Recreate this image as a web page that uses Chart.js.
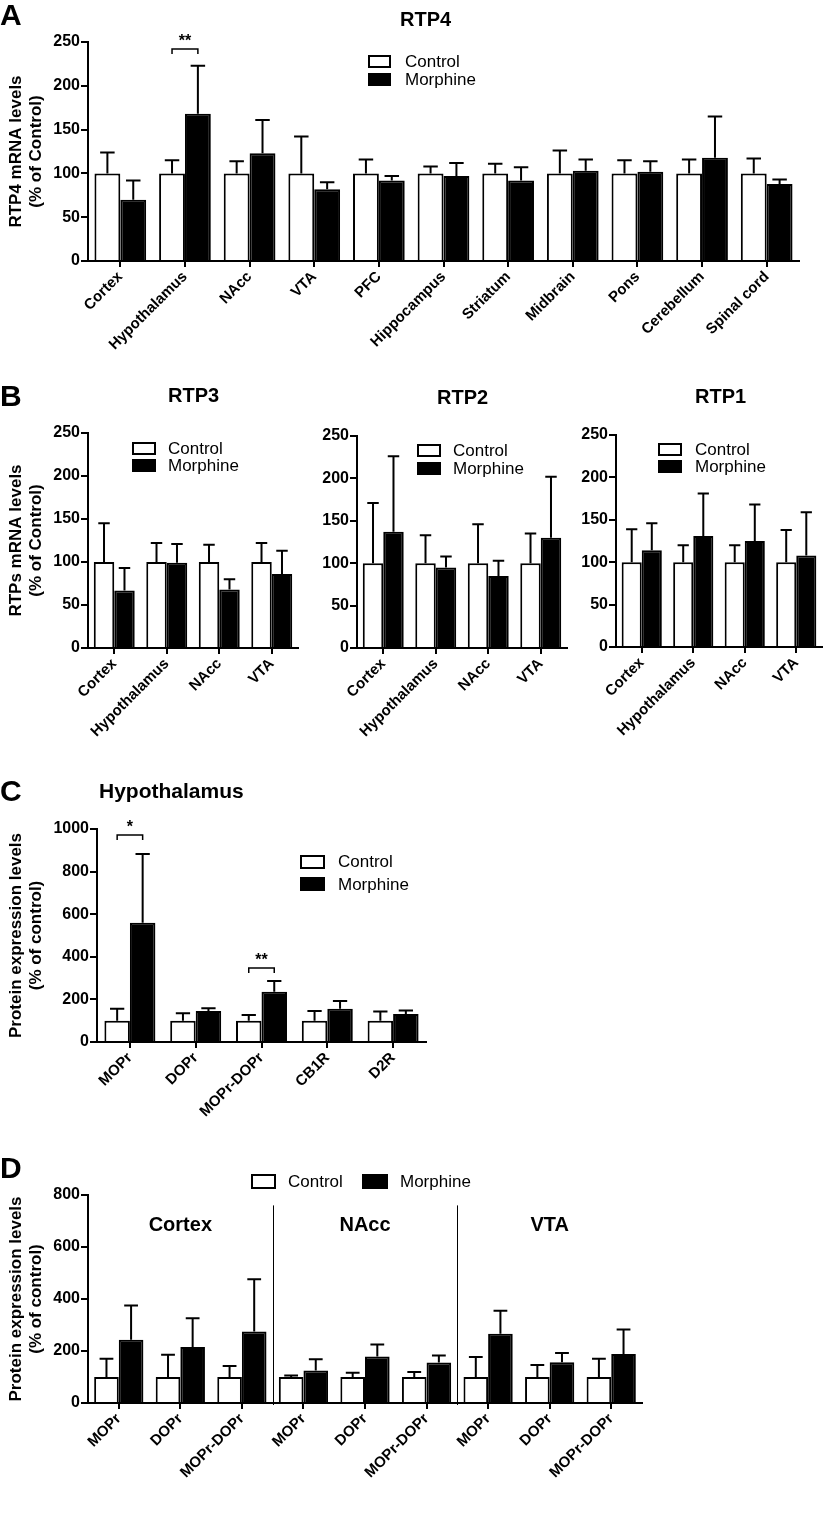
<!DOCTYPE html>
<html>
<head>
<meta charset="utf-8">
<script src="https://cdn.jsdelivr.net/npm/chart.js@4.4.1/dist/chart.umd.min.js"></script>
<style>
  body { margin: 0; background: #fff; }
  #page { position: relative; width: 825px; height: 1515px; overflow: hidden; background: #fff;
          font-family: "Liberation Sans", Arial, sans-serif; color: #000; }
  #page canvas { position: absolute; }
  .txt { position: absolute; white-space: nowrap; line-height: 1; }
  .box { position: absolute; border: 2px solid #000; box-sizing: border-box; }
</style>
</head>
<body>
<div id="page">
  <canvas id="chartA" width="825" height="375" style="left:0;top:0"></canvas>
  <canvas id="chartRtp3" width="305" height="345" style="left:0;top:400px"></canvas>
  <canvas id="chartRtp2" width="272" height="345" style="left:300px;top:400px"></canvas>
  <canvas id="chartRtp1" width="265" height="345" style="left:560px;top:400px"></canvas>
  <canvas id="chartC" width="440" height="350" style="left:0;top:790px"></canvas>
  <canvas id="chartD" width="660" height="345" style="left:0;top:1170px"></canvas>
</div>
<script>
const FONT = '"Liberation Sans", Arial, sans-serif';

// A - RTP4 mRNA
const rtp4Regions = ['Cortex', 'Hypothalamus', 'NAcc', 'VTA', 'PFC', 'Hippocampus', 'Striatum', 'Midbrain', 'Pons', 'Cerebellum', 'Spinal cord'];
const rtp4Control = [100, 100, 100, 100, 100, 100, 100, 100, 100, 100, 100];
const rtp4ControlSd = [24, 15, 14, 42, 16, 8, 11, 26, 15, 16, 17];
const rtp4Morphine = [70, 168, 123, 82, 92, 97, 92, 103, 102, 118, 88];
const rtp4MorphineSd = [22, 55, 38, 8, 5, 15, 15, 13, 12, 47, 5];
const rtp4Marks = [{ at: 'Hypothalamus', y: 242, text: '**' }];

// B - RTP3 / RTP2 / RTP1 mRNA
const rtpRegions = ['Cortex', 'Hypothalamus', 'NAcc', 'VTA'];
const rtp3Control = [100, 100, 100, 100];
const rtp3ControlSd = [45, 22, 20, 22];
const rtp3Morphine = [67, 99, 68, 86];
const rtp3MorphineSd = [26, 22, 12, 27];
const rtp2Control = [100, 100, 100, 100];
const rtp2ControlSd = [71, 33, 46, 35];
const rtp2Morphine = [137, 95, 85, 130];
const rtp2MorphineSd = [89, 13, 18, 72];
const rtp1Control = [100, 100, 100, 100];
const rtp1ControlSd = [39, 20, 20, 38];
const rtp1Morphine = [114, 131, 125, 108];
const rtp1MorphineSd = [32, 50, 43, 51];
const rtpTicks = { max: 250, step: 50 };

// C - hypothalamus protein
const hypoProteins = ['MOPr', 'DOPr', 'MOPr-DOPr', 'CB1R', 'D2R'];
const hypoControl = [100, 100, 100, 100, 100];
const hypoControlSd = [56, 35, 27, 46, 43];
const hypoMorphine = [560, 145, 236, 156, 132];
const hypoMorphineSd = [323, 14, 50, 37, 16];
const hypoMarks = [{ at: 'MOPr', y: 972, text: '*' }, { at: 'MOPr-DOPr', y: 347, text: '**' }];

// D - protein by region
const dRegions = ['Cortex', 'NAcc', 'VTA'];
const dProteins = ['MOPr', 'DOPr', 'MOPr-DOPr'];
const dControl = [100, 100, 100, 100, 100, 100, 100, 100, 100];
const dControlSd = [70, 86, 42, 6, 16, 19, 77, 46, 70];
const dMorphine = [243, 215, 275, 125, 179, 156, 266, 157, 188];
const dMorphineSd = [132, 111, 201, 43, 46, 27, 89, 35, 95];

// error bars (mean + SD, upward only)
const errorBars = {
  id: 'errorBars',
  afterDatasetsDraw(chart) {
    const ctx = chart.ctx, y = chart.scales.y;
    ctx.save();
    ctx.strokeStyle = '#000';
    ctx.lineWidth = 2;
    chart.data.datasets.forEach((ds, di) => {
      chart.getDatasetMeta(di).data.forEach((bar, i) => {
        const top = y.getPixelForValue(ds.data[i] + ds.errors[i]);
        const half = bar.width * 0.28;
        ctx.beginPath();
        ctx.moveTo(bar.x, bar.y);
        ctx.lineTo(bar.x, top);
        ctx.moveTo(bar.x - half, top);
        ctx.lineTo(bar.x + half, top);
        ctx.stroke();
      });
    });
    ctx.restore();
  }
};

// significance brackets
const sigBrackets = {
  id: 'sigBrackets',
  afterDatasetsDraw(chart, args, opts) {
    if (!opts || !opts.marks) return;
    const ctx = chart.ctx;
    ctx.save();
    ctx.strokeStyle = '#000';
    ctx.fillStyle = '#000';
    ctx.lineWidth = 1.5;
    ctx.font = 'bold 16px ' + FONT;
    ctx.textAlign = 'center';
    opts.marks.forEach(m => {
      const i = chart.data.labels.indexOf(m.at);
      const x1 = chart.getDatasetMeta(0).data[i].x;
      const x2 = chart.getDatasetMeta(1).data[i].x;
      const yy = chart.scales.y.getPixelForValue(m.y);
      ctx.beginPath();
      ctx.moveTo(x1, yy + 5);
      ctx.lineTo(x1, yy);
      ctx.lineTo(x2, yy);
      ctx.lineTo(x2, yy + 5);
      ctx.stroke();
      ctx.fillText(m.text, (x1 + x2) / 2, yy - 3);
    });
    ctx.restore();
  }
};

// region dividers and region names for panel D
const regionDividers = {
  id: 'regionDividers',
  afterDatasetsDraw(chart, args, opts) {
    if (!opts || !opts.groups) return;
    const ctx = chart.ctx, x = chart.scales.x, y = chart.scales.y;
    const n = opts.size;
    ctx.save();
    ctx.strokeStyle = '#000';
    ctx.fillStyle = '#000';
    ctx.lineWidth = 1;
    ctx.font = 'bold 20px ' + FONT;
    ctx.textAlign = 'center';
    ctx.textBaseline = 'middle';
    opts.groups.forEach((g, gi) => {
      ctx.fillText(g, x.getPixelForValue(gi * n + (n - 1) / 2), y.getPixelForValue(opts.labelAt));
      if (gi > 0) {
        const xs = Math.round((x.getPixelForValue(gi * n - 1) + x.getPixelForValue(gi * n)) / 2) + 0.5;
        ctx.beginPath();
        ctx.moveTo(xs, y.getPixelForValue(opts.lineTop));
        ctx.lineTo(xs, y.bottom + 2);
        ctx.stroke();
      }
    });
    ctx.restore();
  }
};

function barChart(id, box, labels, ctrl, ctrlSd, morph, morphSd, cfg) {
  const canvas = document.getElementById(id);
  return new Chart(canvas, {
    type: 'bar',
    data: {
      labels: labels,
      datasets: [
        { label: 'Control', data: ctrl, errors: ctrlSd, backgroundColor: '#fff', borderColor: '#000', borderWidth: 2 },
        { label: 'Morphine', data: morph, errors: morphSd, backgroundColor: '#000', borderColor: '#000', borderWidth: 2 }
      ]
    },
    options: {
      responsive: false,
      animation: false,
      events: [],
      datasets: { bar: { categoryPercentage: cfg.catPct, barPercentage: 1 } },
      layout: { padding: { left: 0, top: box.top, right: canvas.width - box.right, bottom: 0 } },
      plugins: {
        legend: { display: false },
        tooltip: { enabled: false },
        sigBrackets: { marks: cfg.marks || null },
        regionDividers: cfg.regions || {}
      },
      scales: {
        x: {
          offset: true,
          grid: { display: true, drawOnChartArea: false, offset: false, tickLength: 6, color: '#000', lineWidth: 2 },
          border: { display: true, color: '#000', width: 2 },
          ticks: { color: '#000', font: { family: FONT, size: 15, weight: 'bold' },
                   minRotation: 45, maxRotation: 45, autoSkip: false, padding: 1 },
          afterFit: s => { s.height = canvas.height - box.bottom; }
        },
        y: {
          min: 0,
          max: cfg.max,
          ticks: { stepSize: cfg.step, color: '#000', font: { family: FONT, size: 16, weight: 'bold' }, padding: 1,
                   callback: v => String(v) },
          grid: { drawOnChartArea: false, tickLength: 7, color: '#000', lineWidth: 2 },
          border: { display: true, color: '#000', width: 2 },
          title: {
            display: !!cfg.yTitle,
            text: cfg.yTitle || '',
            color: '#000',
            font: { family: FONT, size: 17, weight: 'bold', lineHeight: 1.15 },
            padding: { top: 7, bottom: 0 }
          },
          afterFit: s => { s.width = box.axisX; }
        }
      }
    },
    plugins: [errorBars, sigBrackets, regionDividers]
  });
}

barChart('chartA', { axisX: 88, top: 42, bottom: 261, right: 799 },
  rtp4Regions, rtp4Control, rtp4ControlSd, rtp4Morphine, rtp4MorphineSd,
  { catPct: 0.8, max: 250, step: 50, yTitle: ['RTP4 mRNA levels', '(% of Control)'], marks: rtp4Marks });

barChart('chartRtp3', { axisX: 88, top: 33, bottom: 248, right: 298 },
  rtpRegions, rtp3Control, rtp3ControlSd, rtp3Morphine, rtp3MorphineSd,
  { catPct: 0.78, max: rtpTicks.max, step: rtpTicks.step, yTitle: ['RTPs mRNA levels', '(% of Control)'] });

barChart('chartRtp2', { axisX: 57, top: 36, bottom: 248, right: 267 },
  rtpRegions, rtp2Control, rtp2ControlSd, rtp2Morphine, rtp2MorphineSd,
  { catPct: 0.78, max: rtpTicks.max, step: rtpTicks.step });

barChart('chartRtp1', { axisX: 56, top: 35, bottom: 247, right: 262 },
  rtpRegions, rtp1Control, rtp1ControlSd, rtp1Morphine, rtp1MorphineSd,
  { catPct: 0.78, max: rtpTicks.max, step: rtpTicks.step });

barChart('chartC', { axisX: 97, top: 39, bottom: 252, right: 426 },
  hypoProteins, hypoControl, hypoControlSd, hypoMorphine, hypoMorphineSd,
  { catPct: 0.775, max: 1000, step: 200, yTitle: ['Protein expression levels', '(% of control)'], marks: hypoMarks });

const dLabels = [];
dRegions.forEach(() => dProteins.forEach(p => dLabels.push(p)));
barChart('chartD', { axisX: 88, top: 25, bottom: 233, right: 642 },
  dLabels, dControl, dControlSd, dMorphine, dMorphineSd,
  { catPct: 0.8, max: 800, step: 200, yTitle: ['Protein expression levels', '(% of control)'],
    regions: { groups: dRegions, size: dProteins.length, labelAt: 681, lineTop: 760 } });

// panel letters, titles and legends
const page = document.getElementById('page');
function addText(str, x, cy, size, weight) {
  const el = document.createElement('div');
  el.className = 'txt';
  el.textContent = str;
  el.style.left = x + 'px';
  el.style.top = (cy - 0.4885 * size) + 'px';
  el.style.fontSize = size + 'px';
  el.style.fontWeight = weight;
  page.appendChild(el);
}
function addBox(x, cy, w, h, filled) {
  const el = document.createElement('div');
  el.className = 'box';
  el.style.left = x + 'px';
  el.style.top = (cy - h / 2) + 'px';
  el.style.width = w + 'px';
  el.style.height = h + 'px';
  el.style.background = filled ? '#000' : '#fff';
  page.appendChild(el);
}
function legend(boxX, textX, cyControl, cyMorphine, w, h) {
  addBox(boxX, cyControl, w, h, false);
  addText('Control', textX, cyControl, 17, 'normal');
  addBox(boxX, cyMorphine, w, h, true);
  addText('Morphine', textX, cyMorphine, 17, 'normal');
}

addText('A', 0, 14.5, 30, 'bold');
addText('B', 0, 396, 30, 'bold');
addText('C', 0, 791, 30, 'bold');
addText('D', 0, 1168, 30, 'bold');

addText('RTP4', 400, 18.5, 20, 'bold');
addText('RTP3', 168, 394.5, 20, 'bold');
addText('RTP2', 437, 397, 20, 'bold');
addText('RTP1', 695, 395.5, 20, 'bold');
addText('Hypothalamus', 99, 790, 21, 'bold');

legend(368, 405, 61.5, 79, 23, 13);
legend(132, 168, 448, 465, 24, 13);
legend(417, 453, 450.5, 468, 24, 13);
legend(658, 695, 449.5, 466, 24, 13);
legend(300, 338, 861.5, 884, 25, 14);

// panel D legend is horizontal
addBox(251, 1181, 25, 15, false);
addText('Control', 288, 1181, 17, 'normal');
addBox(362, 1181, 26, 15, true);
addText('Morphine', 400, 1181, 17, 'normal');
</script>
</body>
</html>
